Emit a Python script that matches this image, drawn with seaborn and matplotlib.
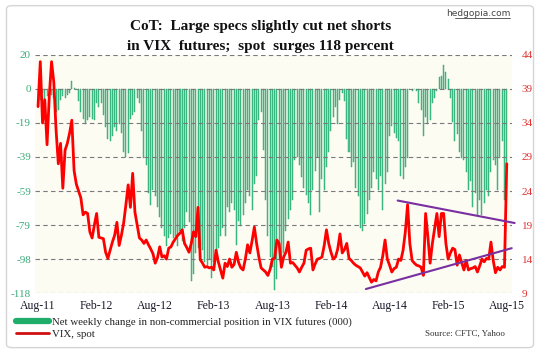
import numpy as np
import pandas as pd
import matplotlib
matplotlib.use("Agg")
import matplotlib.pyplot as plt
from matplotlib.lines import Line2D
from matplotlib.patches import FancyBboxPatch
import seaborn as sns

# ---------------- data ----------------
net_position = [
    -3, -6, -2, -9, -4, -1, -3, -5, -13, -12, -6, -4, -5, -3, -2, 5, 1, 0,
    -7, -13, -17, -20, -18, -16, -17, -18, -8, -10, -8, -15,
    -22, -29, -30, -27, -22, -24, -20, -25, -36, -39, -37, -17, -15, -13, -5, -8,
    -24, -40, -44, -60, -67, -58, -62, -68, -74, -80, -85, -91, -86, -84,
    -86, -85, -91, -82, -88, -80, -71, -77, -111, -107, -95, -92, -90, -93,
    -100, -102, -98, -109, -100, -96, -92, -85, -80, -85, -68, -71, -66, -70,
    -90, -76, -79, -73, -66, -58, -62, -70, -55, -50, -18, -13, -35, -64,
    -85, -97, -103, -116, -110, -99, -103, -95, -82, -75, -70, -64, -41, -39,
    -44, -51, -57, -61, -66, -73, -58, -47, -39, -71, -52, -58, -45, -36,
    -24, -16, -10, -20, -6, -2, -7, -29, -36, -45, -42, -57, -62, -80, -82,
    -78, -72, -64, -57, -48, -52, -58, -50, -70, -55, -48, -27, -21, -25,
    -28, -30, -50, -52, -45, -40, 0, -1, 0, -1, -8, -12, -27, -16, -20, -18,
    -8, -5, -1, 7, 8, 14, 10, 6, -5, -19, -30, -26, -36, -40, -41, -48, -58,
    -53, -68, -60, -73, -64, -73, -66, -58, -62, -48, -41, -44, -58, -40,
    -30, -64, -45, -41,
]

vix_spot = [
    36.4, 43.0, 34.0, 37.4, 30.8, 38.0, 43.0, 40.0, 33.0, 28.0, 31.0, 24.4,
    30.0, 31.0, 32.5, 34.4, 27.0, 25.0, 24.0, 23.0, 20.5, 20.9, 20.7, 18.0,
    17.1, 19.0, 20.7, 17.2, 17.1, 17.0, 15.0, 14.1, 15.3, 16.5, 17.5, 19.4,
    16.0, 17.5, 19.3, 22.0, 24.9, 21.6, 26.6, 20.9, 19.0, 17.1, 16.8, 16.3,
    16.8, 16.1, 15.5, 14.8, 13.4, 14.2, 15.8, 14.3, 14.5, 14.0, 15.6, 15.8,
    16.5, 17.0, 17.5, 17.8, 18.3, 16.3, 15.7, 15.0, 16.3, 18.0, 17.3, 21.6,
    13.9, 13.4, 12.8, 12.9, 12.7, 12.8, 12.4, 15.3, 13.6, 12.4, 11.2, 13.4,
    12.9, 14.0, 12.8, 13.2, 15.0, 13.5, 12.7, 12.4, 14.0, 16.1, 14.9, 16.7,
    18.7, 16.3, 14.3, 12.7, 12.4, 12.1, 11.6, 12.5, 14.0, 14.1, 16.8, 16.3,
    12.8, 14.3, 15.0, 16.5, 13.4, 13.5, 13.1, 12.7, 12.1, 12.8, 13.4, 15.3,
    15.5, 15.6, 12.4, 13.3, 14.0, 14.1, 14.3, 16.0, 18.3, 16.3, 15.0, 14.0,
    14.3, 15.5, 17.7, 14.9, 15.4, 16.3, 14.1, 13.8, 13.4, 13.1, 12.9, 12.7,
    12.1, 11.5, 12.0, 11.3, 10.6, 11.0, 10.8, 12.1, 12.8, 14.5, 16.8, 14.0,
    13.1, 12.1, 12.6, 12.8, 14.0, 13.8, 15.3, 18.0, 22.0, 16.3, 13.8, 13.4,
    13.1, 13.0, 12.8, 11.6, 20.7, 17.3, 13.4, 16.3, 18.5, 20.7, 17.3, 20.7,
    20.7, 16.3, 14.0, 14.9, 15.6, 15.4, 13.1, 14.6, 13.5, 12.4, 13.8, 12.4,
    12.6, 12.7, 12.9, 12.1, 13.0, 14.0, 13.6, 14.1, 14.0, 16.5, 13.8, 12.0,
    12.8, 12.4, 12.9, 12.8, 28.0,
]

x_tick_labels = ["Aug-11", "Feb-12", "Aug-12", "Feb-13", "Aug-13",
                 "Feb-14", "Aug-14", "Feb-15", "Aug-15"]
left_ticks = np.linspace(-118, 20, 8)
right_ticks = [9, 14, 19, 24, 29, 34, 39, 44]

# trend lines drawn on the VIX panel (week index, VIX level)
upper_trend_x = [159.6, 211.5]
upper_trend_y = [22.6, 19.3]
lower_trend_x = [145.5, 210.2]
lower_trend_y = [9.6, 15.6]

n = len(vix_spot)
df = pd.DataFrame({"week": np.arange(n), "net": net_position[:n], "vix": vix_spot})

# ---------------- style ----------------
sns.set_theme(style="white")
plt.rcParams["font.family"] = ["Liberation Serif", "DejaVu Serif"]

fig = plt.figure(figsize=(5.4, 3.54), dpi=100)
fig.patch.set_facecolor("white")
fig.patches.append(FancyBboxPatch((0.012, 0.018), 0.976, 0.966,
                                  boxstyle="round,pad=0,rounding_size=0.01",
                                  transform=fig.transFigure, facecolor="white",
                                  edgecolor="#d5d5d5", linewidth=1.0, zorder=-10))

ax = fig.add_axes([0.065, 0.172, 0.883, 0.673])
ax.set_facecolor("#fcfcf3")

sns.barplot(data=df, x="week", y="net", ax=ax, color="#4cc694",
            width=0.45, saturation=1, edgecolor="#23a066", linewidth=0.3)

ax.set_ylim(-118, 20)
ax.set_xlim(-1.3, 210.3)
ax.set_yticks(left_ticks)
ax.set_yticklabels([f"{int(round(v))}" for v in left_ticks],
                   color="#3aaa78", fontsize=8)
tick_pos = np.arange(0, 209, 26)
ax.set_xticks(tick_pos)
ax.set_xticklabels(x_tick_labels, fontsize=8.5, color="#1a1a2a")
ax.set_xlabel("")
ax.set_ylabel("")
ax.tick_params(axis="both", length=0, pad=3)
ax.tick_params(axis="x", pad=5)
for s in ax.spines.values():
    s.set_visible(False)
for v in left_ticks:
    ax.axhline(v, color="#7a7a7a", linestyle=(0, (4, 3)), linewidth=0.8, zorder=5)

ax2 = ax.twinx()
sns.lineplot(data=df, x="week", y="vix", ax=ax2, color="#ff0000",
             linewidth=2.0, zorder=6)
ax2.plot(upper_trend_x, upper_trend_y, color="#7a2fa0", linewidth=1.5,
         clip_on=False, zorder=7)
ax2.plot(lower_trend_x, lower_trend_y, color="#7a2fa0", linewidth=1.5,
         clip_on=False, zorder=7)
ax2.set_ylim(9, 44)
ax2.set_xlim(-1.3, 210.3)
ax2.set_yticks(right_ticks)
ax2.set_yticklabels([str(v) for v in right_ticks], color="#e03030", fontsize=8)
ax2.tick_params(axis="y", length=0, pad=7)
ax2.set_ylabel("")
ax2.set_xlabel("")
ax2.grid(False)
ax.grid(False)
for s in ax2.spines.values():
    s.set_visible(False)

# ---------------- texts ----------------
fig.text(0.482, 0.925, "CoT:  Large specs slightly cut net shorts",
         ha="center", va="center", fontsize=11, fontweight="bold", color="#111111")
fig.text(0.482, 0.868, "in VIX  futures;  spot  surges 118 percent",
         ha="center", va="center", fontsize=11, fontweight="bold", color="#111111")
fig.text(0.945, 0.962, "hedgopia.com", ha="right", va="center", fontsize=6.5,
         color="#444444", family=["DejaVu Sans"])
fig.add_artist(Line2D([0.843, 0.945], [0.948, 0.948], transform=fig.transFigure,
                      color="#444444", linewidth=0.6))

handles = [Line2D([], [], color="#1fae6a", linewidth=4.5),
           Line2D([], [], color="#d01010", linewidth=2)]
labels = ["Net weekly change in non-commercial position in VIX futures (000)",
          "VIX, spot"]
leg = fig.legend(handles, labels, loc="upper left", bbox_to_anchor=(0.03, 0.105),
                 frameon=False, fontsize=7.8, handlelength=3.0, handletextpad=0.3,
                 labelspacing=0.2, borderaxespad=0, borderpad=0)
for t in leg.get_texts():
    t.set_color("#222222")
fig.text(0.935, 0.058, "Source: CFTC, Yahoo", ha="right", va="center",
         fontsize=6.5, color="#333333")

fig.savefig("out.png", dpi=100, facecolor="white")
